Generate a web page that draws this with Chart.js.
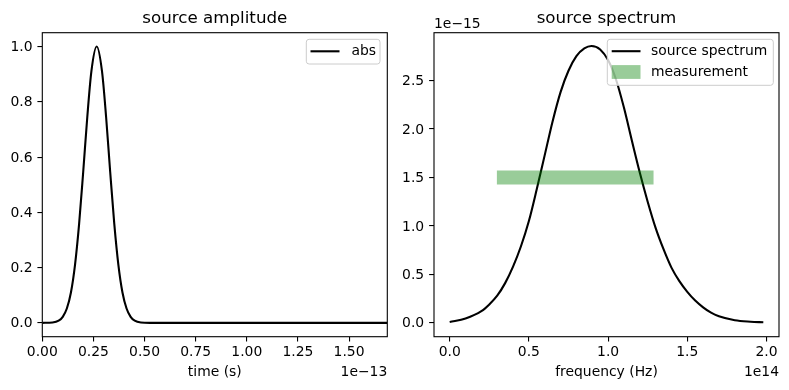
<!DOCTYPE html>
<html>
<head>
<meta charset="utf-8">
<script src="https://cdn.jsdelivr.net/npm/chart.js@4"></script>
<style>
  body { margin: 0; background: #fff; }
  #wrap { position: relative; width: 789px; height: 390px; }
  canvas { position: absolute; top: 0; }
</style>
</head>
<body>
<div id="wrap">
  <canvas id="amp" width="395" height="390" style="left:0"></canvas>
  <canvas id="spec" width="394" height="390" style="left:395px"></canvas>
</div>
<script>
// time in units of 1e-13 s
const ampTime = [0, 0.05, 0.08, 0.10, 0.12, 0.14, 0.16, 0.18, 0.20, 0.22, 0.24, 0.266,
  0.292, 0.312, 0.332, 0.352, 0.372, 0.392, 0.412, 0.432, 0.452, 0.482, 0.53, 0.60, 1.00, 1.687];
const ampAbs = [0.0001, 0.0015, 0.008, 0.022, 0.052, 0.110, 0.210, 0.358, 0.546, 0.745, 0.910, 1.0,
  0.910, 0.745, 0.546, 0.358, 0.210, 0.110, 0.052, 0.022, 0.008, 0.0015, 0.0001, 0, 0, 0];

// frequency in units of 1e14 Hz, spectrum in units of 1e-15
const freq = [0.00, 0.10, 0.20, 0.25, 0.30, 0.35, 0.40, 0.45, 0.50, 0.55, 0.60, 0.65, 0.70,
  0.75, 0.80, 0.85, 0.895, 0.95, 1.00, 1.05, 1.10, 1.15, 1.20, 1.25, 1.30, 1.35, 1.40, 1.45,
  1.50, 1.55, 1.60, 1.65, 1.70, 1.80, 1.90, 1.98];
const spectrum = [0.01, 0.045, 0.12, 0.19, 0.28, 0.41, 0.58, 0.79, 1.05, 1.38, 1.73, 2.08, 2.38,
  2.60, 2.75, 2.83, 2.855, 2.82, 2.71, 2.51, 2.22, 1.88, 1.55, 1.25, 0.98, 0.76, 0.57, 0.43,
  0.32, 0.23, 0.16, 0.105, 0.068, 0.027, 0.012, 0.006];

const measFreq = [0.298, 1.287];
const measLevel = 1.5;

const ampXTicks = [0, 0.25, 0.5, 0.75, 1.0, 1.25, 1.5];
const ampYTicks = [0, 0.2, 0.4, 0.6, 0.8, 1.0];
const specXTicks = [0, 0.5, 1.0, 1.5, 2.0];
const specYTicks = [0, 0.5, 1.0, 1.5, 2.0, 2.5];

Chart.defaults.font.family = 'DejaVu Sans';
Chart.defaults.font.size = 13.9;
Chart.defaults.color = '#000';

const FONT = '13.9px "DejaVu Sans"';

// frame, titles, offset text and the in-axes legend
const decor = {
  id: 'decor',
  afterDatasetsDraw(chart, args, o) {
    const { ctx, chartArea: a } = chart;
    ctx.save();
    ctx.strokeStyle = '#000';
    ctx.lineWidth = 1.1;
    ctx.strokeRect(a.left, a.top, a.right - a.left, a.bottom - a.top);

    // legend
    const lg = o.legend;
    const [x1, y1, x2, y2] = lg.box;
    ctx.beginPath();
    ctx.roundRect(x1, y1, x2 - x1, y2 - y1, 2.8);
    ctx.fillStyle = 'rgba(255,255,255,0.8)';
    ctx.fill();
    ctx.strokeStyle = '#cccccc';
    ctx.lineWidth = 1;
    ctx.stroke();
    ctx.font = FONT;
    ctx.textBaseline = 'middle';
    ctx.textAlign = 'left';
    for (const it of lg.items) {
      if (it.kind === 'line') {
        ctx.strokeStyle = '#000';
        ctx.lineWidth = 2.1;
        ctx.beginPath();
        ctx.moveTo(lg.sx[0], it.y);
        ctx.lineTo(lg.sx[1], it.y);
        ctx.stroke();
      } else {
        ctx.fillStyle = 'rgba(0,128,0,0.4)';
        ctx.fillRect(lg.sx[0], it.y - 6.9, lg.sx[1] - lg.sx[0], 13.8);
      }
      ctx.fillStyle = '#000';
      ctx.fillText(it.label, lg.tx, it.y + 0.5);
    }

    // title
    ctx.textBaseline = 'alphabetic';
    ctx.fillStyle = '#000';
    ctx.font = '16.7px "DejaVu Sans"';
    ctx.textAlign = 'center';
    ctx.fillText(o.title, (a.left + a.right) / 2, 23);

    // x label
    ctx.font = FONT;
    ctx.fillText(o.xlabel, (a.left + a.right) / 2, 375.5);

    // offset texts
    if (o.xOffset) {
      ctx.textAlign = 'right';
      ctx.fillText(o.xOffset, a.right, 375.5);
    }
    if (o.yOffset) {
      ctx.textAlign = 'left';
      ctx.fillText(o.yOffset, a.left, 27.5);
    }
    ctx.restore();
  }
};

function axis(min, max, ticks, dec, size, horizontal) {
  return {
    type: 'linear',
    min: min,
    max: max,
    afterBuildTicks: s => { s.ticks = ticks.map(v => ({ value: v })); },
    afterFit: s => { if (horizontal) s.height = size; else s.width = size; },
    grid: { drawOnChartArea: false, color: '#000', lineWidth: 1.1, tickLength: 4.9 },
    border: { display: false },
    ticks: {
      padding: horizontal ? 2 : 4.9,
      labelOffset: horizontal ? 0 : 1,
      color: '#000',
      maxRotation: 0,
      autoSkip: false,
      callback: v => Number(v).toFixed(dec),
    },
  };
}

function pts(xs, ys) {
  return xs.map((x, i) => ({ x: x, y: ys[i] }));
}

new Chart(document.getElementById('amp'), {
  type: 'line',
  data: {
    datasets: [{
      label: 'abs',
      data: pts(ampTime, ampAbs),
      borderColor: '#000',
      borderWidth: 2.1,
      pointRadius: 0,
      cubicInterpolationMode: 'monotone',
    }],
  },
  options: {
    responsive: false,
    animation: false,
    layout: { padding: { top: 32.7, right: 7.7, bottom: 0, left: 0 } },
    scales: {
      x: axis(0, 1.687, ampXTicks, 2, 53.3, true),
      y: axis(-0.05, 1.05, ampYTicks, 1, 42.3, false),
    },
    plugins: {
      legend: { display: false },
      tooltip: { enabled: false },
      decor: {
        title: 'source amplitude',
        xlabel: 'time (s)',
        xOffset: '1e\u221213',
        legend: {
          box: [306.3, 39.3, 380, 64],
          sx: [310.5, 339.5],
          tx: 351.5,
          items: [{ kind: 'line', y: 51.3, label: 'abs' }],
        },
      },
    },
  },
  plugins: [decor],
});

new Chart(document.getElementById('spec'), {
  type: 'line',
  data: {
    datasets: [{
      label: 'measurement',
      data: pts(measFreq, [measLevel, measLevel]),
      borderColor: 'rgba(0,128,0,0.4)',
      borderWidth: 13.9,
      borderCapStyle: 'butt',
      pointRadius: 0,
    }, {
      label: 'source spectrum',
      data: pts(freq, spectrum),
      borderColor: '#000',
      borderWidth: 2.1,
      pointRadius: 0,
      cubicInterpolationMode: 'monotone',
    }],
  },
  options: {
    responsive: false,
    animation: false,
    layout: { padding: { top: 32.7, right: 10, bottom: 0, left: 0 } },
    scales: {
      x: axis(-0.099, 2.079, specXTicks, 1, 53.3, true),
      y: axis(-0.1425, 2.9925, specYTicks, 1, 39, false),
    },
    plugins: {
      legend: { display: false },
      tooltip: { enabled: false },
      decor: {
        title: 'source spectrum',
        xlabel: 'frequency (Hz)',
        xOffset: '1e14',
        yOffset: '1e\u221215',
        legend: {
          box: [212.3, 39.3, 378.3, 85.3],
          sx: [216.7, 245.5],
          tx: 256,
          items: [
            { kind: 'line', y: 51.2, label: 'source spectrum' },
            { kind: 'patch', y: 72, label: 'measurement' },
          ],
        },
      },
    },
  },
  plugins: [decor],
});
</script>
</body>
</html>
